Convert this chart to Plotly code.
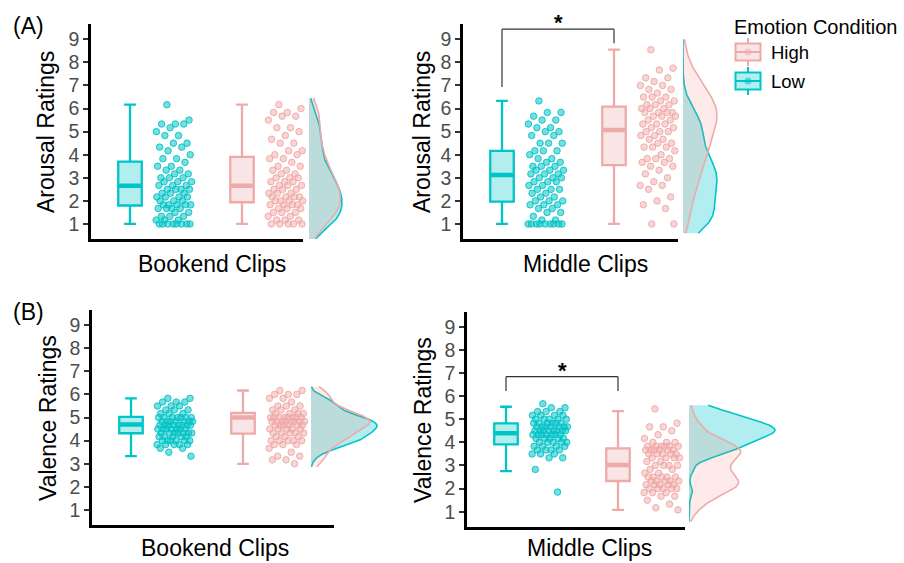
import numpy as np
import plotly.graph_objects as go

W, H = 904, 563
FONT = "Liberation Sans, Arial, Helvetica, sans-serif"

# ---- participant ratings (per clip type and emotion condition) ----
arousal_bookend_low = [6.17, 5.5, 5.33, 5.33, 5.33, 5.17, 5.0, 4.83, 4.83, 4.5, 4.5, 4.33, 4.33, 4.17,
                       4.0, 3.83, 3.83, 3.67, 3.5, 3.5, 3.33, 3.33, 3.17, 3.17, 3.0, 3.0, 3.0, 2.83, 2.83,
                       2.83, 2.67, 2.67, 2.67, 2.5, 2.5, 2.5, 2.5, 2.33, 2.33, 2.33, 2.17, 2.17, 2.17, 2.17,
                       2.0, 2.0, 2.0, 1.83, 1.83, 1.83, 1.83, 1.83, 1.67, 1.67, 1.67, 1.67, 1.5, 1.5,
                       1.33, 1.33, 1.33, 1.17, 1.17, 1.17, 1.0, 1.0, 1.0, 1.0, 1.0, 1.0, 1.0, 1.0]
arousal_bookend_high = [6.17, 6.0, 5.83, 5.83, 5.67, 5.67, 5.5, 5.17, 5.17, 5.0, 4.83, 4.67, 4.5, 4.5,
                        4.17, 4.17, 4.0, 4.0, 3.83, 3.83, 3.67, 3.5, 3.5, 3.33, 3.33, 3.17, 3.17, 3.0,
                        3.0, 3.0, 3.0, 2.83, 2.83, 2.83, 2.67, 2.67, 2.67, 2.5, 2.5, 2.5, 2.33, 2.33, 2.33,
                        2.17, 2.17, 2.17, 2.17, 2.0, 2.0, 2.0, 2.0, 1.83, 1.83, 1.83, 1.83, 1.67, 1.67,
                        1.67, 1.5, 1.5, 1.5, 1.33, 1.33, 1.17, 1.17, 1.17, 1.0, 1.0, 1.0, 1.0, 1.0]
arousal_middle_low = [6.33, 5.83, 5.83, 5.67, 5.5, 5.5, 5.33, 5.17, 5.17, 5.0, 5.0, 4.83, 4.83, 4.5, 4.5,
                      4.5, 4.17, 4.17, 4.17, 4.0, 3.83, 3.83, 3.67, 3.67, 3.5, 3.5, 3.5, 3.33, 3.33, 3.33,
                      3.17, 3.17, 3.17, 3.0, 3.0, 3.0, 2.83, 2.83, 2.83, 2.67, 2.67, 2.5, 2.5, 2.5, 2.33,
                      2.33, 2.17, 2.17, 2.0, 2.0, 2.0, 1.83, 1.83, 1.83, 1.67, 1.67, 1.5, 1.5, 1.33, 1.17,
                      1.17, 1.0, 1.0, 1.0, 1.0, 1.0, 1.0, 1.0, 1.0, 1.0]
arousal_middle_high = [8.55, 7.75, 7.67, 7.33, 7.33, 7.17, 7.0, 7.0, 6.83, 6.83, 6.67, 6.5, 6.5, 6.5,
                       6.33, 6.33, 6.17, 6.17, 6.17, 6.0, 6.0, 6.0, 5.83, 5.83, 5.83, 5.83, 5.67, 5.67,
                       5.67, 5.5, 5.5, 5.33, 5.33, 5.33, 5.17, 5.17, 5.0, 5.0, 5.0, 4.83, 4.83, 4.67,
                       4.67, 4.5, 4.5, 4.33, 4.33, 4.33, 4.17, 4.0, 3.83, 3.83, 3.83, 3.67, 3.67, 3.5,
                       3.5, 3.33, 3.17, 3.0, 2.83, 2.67, 2.67, 2.5, 2.17, 2.0, 1.83, 1.67, 1.0, 1.0]
valence_bookend_low = [5.83, 5.83, 5.67, 5.67, 5.67, 5.5, 5.5, 5.5, 5.33, 5.33, 5.33, 5.17, 5.17, 5.17,
                       5.0, 5.0, 5.0, 5.0, 5.0, 5.0, 5.0, 4.83, 4.83, 4.83, 4.83, 4.83, 4.83, 4.83,
                       4.67, 4.67, 4.67, 4.67, 4.67, 4.67, 4.67, 4.67, 4.5, 4.5, 4.5, 4.5, 4.5, 4.5, 4.5,
                       4.33, 4.33, 4.33, 4.33, 4.33, 4.33, 4.33, 4.17, 4.17, 4.17, 4.17, 4.17, 4.0, 4.0,
                       4.0, 4.0, 4.0, 4.0, 3.83, 3.83, 3.83, 3.83, 3.83, 3.67, 3.67, 3.5, 3.33]
valence_bookend_high = [6.17, 6.17, 6.0, 6.0, 6.0, 5.83, 5.83, 5.67, 5.5, 5.5, 5.5, 5.33, 5.33, 5.33,
                        5.17, 5.17, 5.17, 5.17, 5.0, 5.0, 5.0, 5.0, 5.0, 5.0, 5.0, 5.0, 4.83, 4.83, 4.83,
                        4.83, 4.83, 4.83, 4.83, 4.83, 4.67, 4.67, 4.67, 4.67, 4.67, 4.67, 4.5, 4.5, 4.5,
                        4.5, 4.5, 4.33, 4.33, 4.33, 4.33, 4.33, 4.17, 4.17, 4.17, 4.0, 4.0, 4.0, 4.0,
                        4.0, 3.83, 3.83, 3.83, 3.67, 3.5, 3.33, 3.33, 3.17, 3.17, 3.0]
valence_middle_low = [5.67, 5.5, 5.5, 5.33, 5.33, 5.33, 5.17, 5.17, 5.17, 5.17, 5.0, 5.0, 5.0, 5.0, 5.0,
                      4.83, 4.83, 4.83, 4.83, 4.83, 4.83, 4.67, 4.67, 4.67, 4.67, 4.67, 4.67, 4.67,
                      4.5, 4.5, 4.5, 4.5, 4.5, 4.5, 4.5, 4.5, 4.33, 4.33, 4.33, 4.33, 4.33, 4.33, 4.33,
                      4.17, 4.17, 4.17, 4.17, 4.17, 4.0, 4.0, 4.0, 4.0, 4.0, 3.83, 3.83, 3.83, 3.83,
                      3.67, 3.67, 3.67, 3.67, 3.5, 3.5, 3.5, 3.33, 3.33, 2.83, 1.85]
valence_middle_high = [5.45, 4.83, 4.67, 4.67, 4.5, 4.33, 4.17, 4.0, 4.0, 4.0, 3.83, 3.83, 3.83, 3.83,
                       3.83, 3.83, 3.67, 3.67, 3.67, 3.67, 3.67, 3.67, 3.5, 3.5, 3.5, 3.5, 3.5, 3.33,
                       3.33, 3.33, 3.33, 3.17, 3.17, 3.0, 3.0, 3.0, 3.0, 2.83, 2.83, 2.67, 2.67, 2.5,
                       2.5, 2.5, 2.5, 2.5, 2.33, 2.33, 2.33, 2.33, 2.33, 2.17, 2.17, 2.17, 2.17, 2.17,
                       2.0, 2.0, 2.0, 2.0, 2.0, 1.83, 1.83, 1.83, 1.67, 1.67, 1.5, 1.33, 1.17, 1.08]

# ---- box statistics: [lower whisker, Q1, median, Q3, upper whisker] ----
box_arousal_bookend_low = [1.0, 1.8, 2.66, 3.7, 6.17]
box_arousal_bookend_high = [1.0, 1.94, 2.66, 3.91, 6.17]
box_arousal_middle_low = [1.0, 1.97, 3.12, 4.17, 6.33]
box_arousal_middle_high = [1.0, 3.55, 5.07, 6.08, 8.55]
box_valence_bookend_low = [3.33, 4.32, 4.7, 5.03, 5.83]
box_valence_bookend_high = [3.0, 4.3, 5.0, 5.2, 6.17]
box_valence_middle_low = [2.76, 3.91, 4.39, 4.82, 5.54]
box_valence_middle_high = [1.08, 2.33, 3.02, 3.74, 5.35]

# ---- marginal density extents (rating range covered) ----
dens_span_arousal_bookend = [0.35, 6.45]
dens_span_arousal_middle = [0.6, 9.0]
dens_span_valence_bookend = [2.87, 6.34]
dens_span_valence_middle = [0.57, 5.6]

# ---- significance brackets: [bar height, left leg end, right leg end] ----
sig_arousal_middle = [9.44, 6.93, 8.83]
sig_valence_middle = [6.84, 6.22, 6.22]

condition_pos = {"Low": 1, "High": 2}
tick_vals = [1, 2, 3, 4, 5, 6, 7, 8, 9]
y_range = [0.34, 9.65]

LOW_LINE = "#00C5C8"
LOW_FILL = "#B3EEEE"
LOW_PT = "rgba(0,197,200,0.55)"
LOW_PT_EDGE = "rgba(0,192,196,0.85)"
HIGH_LINE = "#EEAAA8"
HIGH_FILL = "#F9E5E5"
HIGH_PT = "rgba(242,170,168,0.5)"
HIGH_PT_EDGE = "rgba(236,165,162,0.85)"
LOW_DENS_FILL = "rgba(0,200,204,0.30)"
HIGH_DENS_FILL = "rgba(248,118,109,0.15)"

BOX_W = 0.21
JIT_CENTER = 0.39
JIT_HALF = 0.16
PX_PER_UNIT = 112.0


def fx(px):
    return px / W


def fy(py):
    return 1 - py / H


def kde(vals, lo, hi, n=300):
    v = np.asarray(vals, dtype=float)
    sd = v.std(ddof=1)
    q75, q25 = np.percentile(v, [75, 25])
    bw = 0.9 * min(sd, (q75 - q25) / 1.34) * len(v) ** -0.2
    g = np.linspace(lo, hi, n)
    d = np.exp(-0.5 * ((g[:, None] - v[None, :]) / bw) ** 2).sum(axis=1)
    d /= len(v) * bw * np.sqrt(2 * np.pi)
    return g, d


panels = [
    dict(low=arousal_bookend_low, high=arousal_bookend_high,
         box_low=box_arousal_bookend_low, box_high=box_arousal_bookend_high,
         span=dens_span_arousal_bookend, sig=None,
         px_left=91, px_right=303, py_top=24.3, py_bot=239.2, dens_left=309, dens_peak=33,
         ytitle="Arousal Ratings", xtitle="Bookend Clips",
         ytitle_pos=(46, 132), xtitle_pos=(212, 264)),
    dict(low=arousal_middle_low, high=arousal_middle_high,
         box_low=box_arousal_middle_low, box_high=box_arousal_middle_high,
         span=dens_span_arousal_middle, sig=sig_arousal_middle,
         px_left=463, px_right=678, py_top=24.3, py_bot=239.2, dens_left=683, dens_peak=34,
         ytitle="Arousal Ratings", xtitle="Middle Clips",
         ytitle_pos=(422, 132), xtitle_pos=(585, 264)),
    dict(low=valence_bookend_low, high=valence_bookend_high,
         box_low=box_valence_bookend_low, box_high=box_valence_bookend_high,
         span=dens_span_valence_bookend, sig=None,
         px_left=92, px_right=334, py_top=310.0, py_bot=525.3, dens_left=311, dens_peak=66,
         ytitle="Valence Ratings", xtitle="Bookend Clips",
         ytitle_pos=(48, 418), xtitle_pos=(215, 548)),
    dict(low=valence_middle_low, high=valence_middle_high,
         box_low=box_valence_middle_low, box_high=box_valence_middle_high,
         span=dens_span_valence_middle, sig=sig_valence_middle,
         px_left=467, px_right=685, py_top=311.7, py_bot=527.0, dens_left=689, dens_peak=86,
         ytitle="Valence Ratings", xtitle="Middle Clips",
         ytitle_pos=(423, 420), xtitle_pos=(589, 548)),
]

fig = go.Figure()
layout = {}
shapes = []
annotations = []

for i, p in enumerate(panels):
    k = i + 1
    xa, ya = f"x{k}", f"y{k}"
    dk = i + 5
    dxa, dya = f"x{dk}", f"y{dk}"

    x_lo = 1 - 39.0 / PX_PER_UNIT
    x_hi = x_lo + (p["px_right"] - p["px_left"]) / PX_PER_UNIT

    # marginal densities (Low underneath, High on top)
    dens = []
    for cond, vals, lc, fc in [("Low", p["low"], LOW_LINE, LOW_DENS_FILL),
                               ("High", p["high"], HIGH_LINE, HIGH_DENS_FILL)]:
        g, d = kde(vals, p["span"][0], p["span"][1])
        dens.append(d.max())
        fig.add_trace(go.Scatter(x=d, y=g, mode="lines", fill="tozerox", fillcolor=fc,
                                 line=dict(color=lc, width=1.6), xaxis=dxa, yaxis=dya,
                                 showlegend=False, hoverinfo="skip"))
    d_max = max(dens)
    d_w = p["dens_peak"] + 10

    for cond, vals, st, lc, fc, pc, pe in [
            ("Low", p["low"], p["box_low"], LOW_LINE, LOW_FILL, LOW_PT, LOW_PT_EDGE),
            ("High", p["high"], p["box_high"], HIGH_LINE, HIGH_FILL, HIGH_PT, HIGH_PT_EDGE)]:
        pos = condition_pos[cond]
        fig.add_trace(go.Box(x=[pos], lowerfence=[st[0]], q1=[st[1]], median=[st[2]],
                             q3=[st[3]], upperfence=[st[4]], width=BOX_W,
                             fillcolor=fc, line=dict(color=lc, width=2.3),
                             boxpoints=False, xaxis=xa, yaxis=ya, name=cond,
                             showlegend=False, hoverinfo="skip"))
        # thicker median bar
        fig.add_trace(go.Scatter(x=[pos - BOX_W / 2, pos + BOX_W / 2], y=[st[2], st[2]],
                                 mode="lines", line=dict(color=lc, width=4.5),
                                 xaxis=xa, yaxis=ya, showlegend=False, hoverinfo="skip"))
        n = len(vals)
        jit = ((np.arange(n) * 0.6180339887 + 0.31) % 1.0 - 0.5) * 2 * JIT_HALF
        fig.add_trace(go.Scatter(x=pos + JIT_CENTER + jit, y=vals, mode="markers",
                                 marker=dict(size=6.5, color=pc, line=dict(color=pe, width=1)),
                                 xaxis=xa, yaxis=ya, showlegend=False, hoverinfo="skip",
                                 cliponaxis=False))

    dom_x = [fx(p["px_left"]), fx(p["px_right"])]
    dom_y = [fy(p["py_bot"]), fy(p["py_top"])]
    layout[f"xaxis{k}"] = dict(domain=dom_x, range=[x_lo, x_hi], anchor=ya,
                               showline=True, linecolor="black", linewidth=2.5,
                               showticklabels=False, ticks="", showgrid=False, zeroline=False)
    layout[f"yaxis{k}"] = dict(domain=dom_y, range=y_range, anchor=xa,
                               showline=True, linecolor="black", linewidth=2.5,
                               tickvals=tick_vals, ticks="outside", ticklen=5, tickwidth=1.5,
                               tickcolor="#333333", showgrid=False, zeroline=False,
                               tickfont=dict(family=FONT, size=19.5, color="#4D4D4D"))
    layout[f"xaxis{dk}"] = dict(domain=[fx(p["dens_left"]), fx(p["dens_left"] + d_w)],
                                range=[0, d_max * d_w / p["dens_peak"]], anchor=dya, visible=False,
                                showgrid=False, zeroline=False)
    layout[f"yaxis{dk}"] = dict(domain=dom_y, range=y_range, anchor=dxa, visible=False,
                                showgrid=False, zeroline=False)

    annotations.append(dict(text=p["ytitle"], x=fx(p["ytitle_pos"][0]), y=fy(p["ytitle_pos"][1]),
                            xref="paper", yref="paper", textangle=-90, showarrow=False,
                            xanchor="center", yanchor="middle",
                            font=dict(family=FONT, size=23, color="black")))
    annotations.append(dict(text=p["xtitle"], x=fx(p["xtitle_pos"][0]), y=fy(p["xtitle_pos"][1]),
                            xref="paper", yref="paper", showarrow=False,
                            xanchor="center", yanchor="middle",
                            font=dict(family=FONT, size=23, color="black")))

    if p["sig"] is not None:
        top, left_end, right_end = p["sig"]
        x1, x2 = condition_pos["Low"], condition_pos["High"]
        for (a0, b0, a1, b1) in [(x1, left_end, x1, top), (x1, top, x2, top), (x2, top, x2, right_end)]:
            shapes.append(dict(type="line", xref=xa, yref=ya, x0=a0, y0=b0, x1=a1, y1=b1,
                               line=dict(color="#333333", width=1.2)))
        annotations.append(dict(text="<b>*</b>", x=(x1 + x2) / 2, y=top, xref=xa, yref=ya,
                                showarrow=False, xanchor="center", yanchor="bottom", yshift=-8,
                                font=dict(family=FONT, size=22, color="black")))

# panel tags
for tag, (tx, ty) in [("(A)", (28, 26)), ("(B)", (28, 312))]:
    annotations.append(dict(text=tag, x=fx(tx), y=fy(ty), xref="paper", yref="paper",
                            showarrow=False, xanchor="center", yanchor="middle",
                            font=dict(family=FONT, size=23, color="black")))

# legend: Emotion Condition
annotations.append(dict(text="Emotion Condition", x=fx(732), y=fy(27), xref="paper", yref="paper",
                        showarrow=False, xanchor="left", yanchor="middle",
                        font=dict(family=FONT, size=20, color="black")))
for label, cy, lc, fc, pc in [("High", 52, HIGH_LINE, HIGH_FILL, HIGH_PT),
                              ("Low", 81, LOW_LINE, LOW_FILL, LOW_PT)]:
    cx = 748
    shapes.append(dict(type="line", xref="paper", yref="paper", x0=fx(cx), x1=fx(cx),
                       y0=fy(cy - 14), y1=fy(cy + 14), line=dict(color=lc, width=2)))
    shapes.append(dict(type="rect", xref="paper", yref="paper", x0=fx(cx - 12.5), x1=fx(cx + 12.5),
                       y0=fy(cy - 8.5), y1=fy(cy + 8.5), fillcolor=fc, line=dict(color=lc, width=2)))
    shapes.append(dict(type="line", xref="paper", yref="paper", x0=fx(cx - 12.5), x1=fx(cx + 12.5),
                       y0=fy(cy), y1=fy(cy), line=dict(color=lc, width=2)))
    shapes.append(dict(type="circle", xref="paper", yref="paper", x0=fx(cx - 3.5), x1=fx(cx + 3.5),
                       y0=fy(cy - 3.5), y1=fy(cy + 3.5), fillcolor=pc, line=dict(width=0)))
    annotations.append(dict(text=label, x=fx(769), y=fy(cy), xref="paper", yref="paper",
                            showarrow=False, xanchor="left", yanchor="middle",
                            font=dict(family=FONT, size=18.5, color="black")))

fig.update_layout(width=W, height=H, margin=dict(l=0, r=0, t=0, b=0),
                  paper_bgcolor="white", plot_bgcolor="rgba(0,0,0,0)",
                  showlegend=False, shapes=shapes, annotations=annotations,
                  font=dict(family=FONT), **layout)

fig.write_html("out.html")
